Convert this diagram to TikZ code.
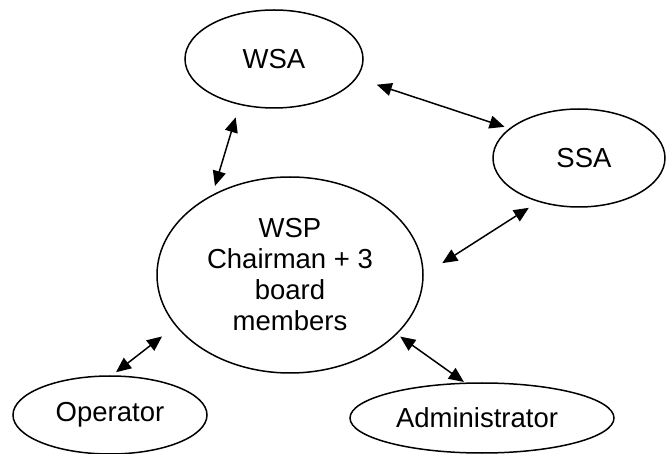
\documentclass[tikz,border=0pt]{standalone}
\usepackage{fontspec}
\setmainfont{Liberation Sans}
\usetikzlibrary{arrows.meta,shapes.geometric}

\tikzset{
  blob/.style={draw, ellipse, line width=1.5pt, inner sep=0pt,
    font=\fontsize{27.5}{31}\selectfont, align=center},
  biarrow/.style={line width=1.5pt,
    {Triangle[length=15pt,width=13pt]}-{Triangle[length=15pt,width=13pt]}}
}

\begin{document}
\begin{tikzpicture}[x=1pt,y=-1pt]
  \useasboundingbox (0,0) rectangle (667,454);

  % entities
  \node[blob, minimum width=178pt, minimum height=98pt]  (wsa) at (274,59)  {WSA};
  \node[blob, minimum width=172pt, minimum height=98pt]  (ssa) at (579,158) {\hspace*{10pt}SSA};
  \node[blob, minimum width=266pt, minimum height=196pt] (wsp) at (290,275)
        {WSP\\Chairman + 3\\board\\members};
  \node[blob, minimum width=194pt, minimum height=78pt]  (op)  at (110,415) {Operator};
  \node[blob, minimum width=264pt, minimum height=70pt]  (adm) at (482,418) {Administrator\hspace*{10pt}};

  % two-way links
  \draw[biarrow, shorten <=13pt, shorten >=9pt]  (wsa.233) -- (wsp.134);
  \draw[biarrow, shorten <=21pt, shorten >=5pt]  (wsa.347) -- (ssa.157);
  \draw[biarrow, shorten <=22pt, shorten >=11pt] (wsp.0)   -- (ssa.227);
  \draw[biarrow, shorten <=17pt, shorten >=5pt]  (wsp.204) -- (op.87);
  \draw[biarrow, shorten <=4pt,  shorten >=1pt]  (wsp.331) -- (adm.116);
\end{tikzpicture}
\end{document}
